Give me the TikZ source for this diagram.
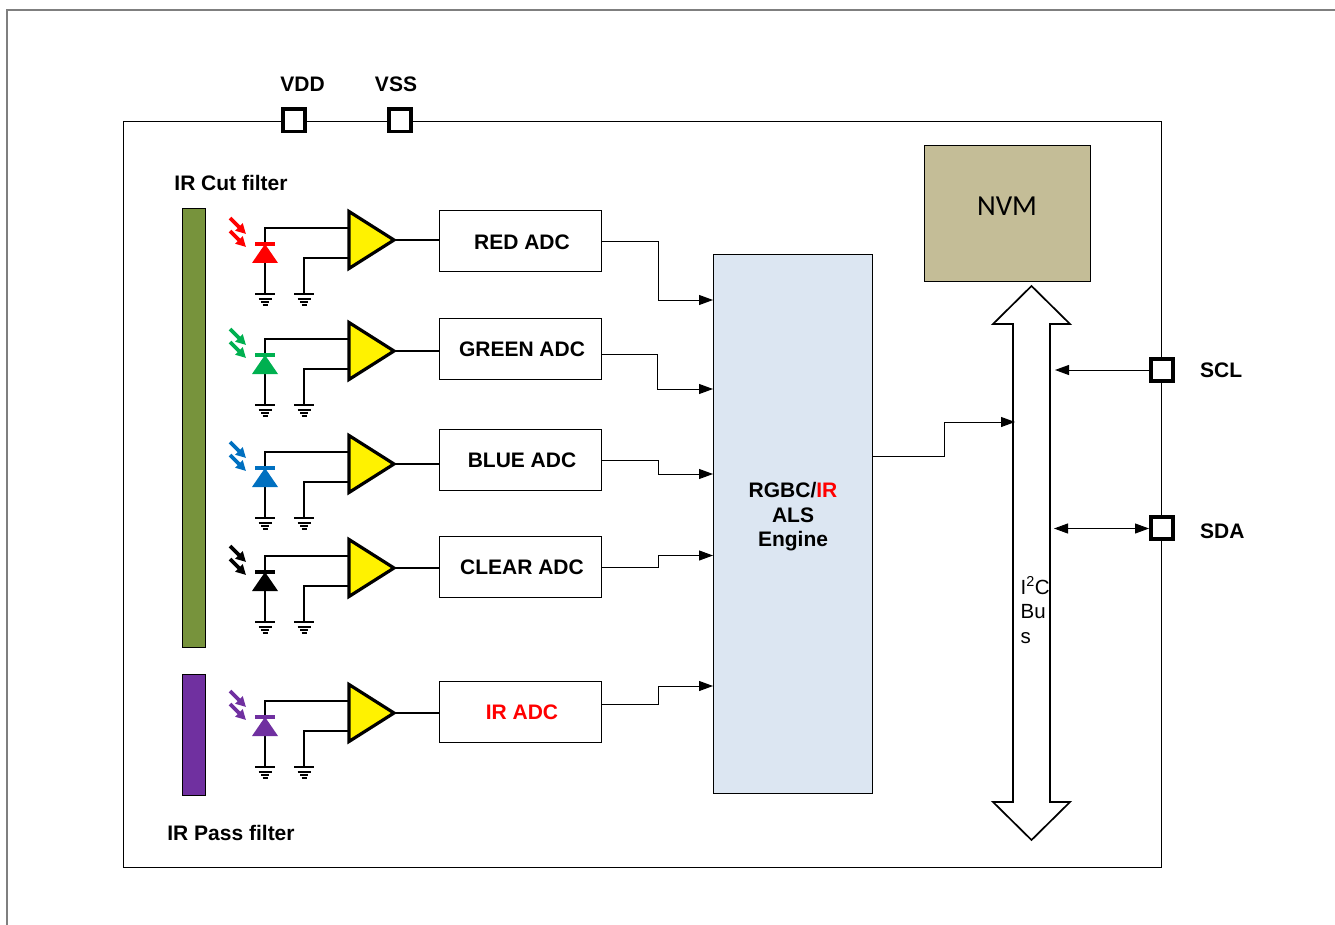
\documentclass[tikz,border=0pt]{standalone}
\usepackage{fontspec}
\setmainfont{Liberation Sans}
\newfontfamily\nvmfont{Carlito}
\usetikzlibrary{arrows.meta}
\definecolor{frameg}{HTML}{7F7F7F}
\definecolor{olivef}{HTML}{77933C}
\definecolor{purplef}{HTML}{7030A0}
\definecolor{nvmc}{HTML}{C4BD97}
\definecolor{engc}{HTML}{DCE6F2}
\definecolor{greend}{HTML}{00B050}
\definecolor{blued}{HTML}{0070C0}
\tikzset{
  x=1pt,y=-1pt,
  lab/.style={font=\fontsize{21}{24.5}\selectfont\bfseries,inner sep=0pt,align=center},
  wire/.style={draw=black,line width=1.7pt},
  thin wire/.style={draw=black,line width=1pt},
  arr/.style={thin wire,-{Triangle[length=14pt,width=10pt]}},
  darr/.style={thin wire,{Triangle[length=14pt,width=10pt]}-{Triangle[length=14pt,width=10pt]}},
  adc/.style={draw=black,line width=1pt,fill=white,minimum width=162pt,minimum height=61pt,inner sep=0pt},
  pad/.style={draw=black,line width=3.6pt,fill=white,minimum size=22.4pt,inner sep=0pt},
  amp/.style={draw=black,line width=3.2pt,fill=yellow,line join=miter},
  photon/.style={line width=3.6pt,-{Triangle[length=10pt,width=10pt]}},
  gbar/.style={line width=2pt},
}
% id, colour, amplifier tip y, box centre y, label
\newcommand{\chan}[5]{%
  \coordinate (tip#1) at (394,#3);
  \coordinate (up#1) at (349,{#3-12});
  \coordinate (lo#1) at (349,{#3+18});
  \node[adc] (adc#1) at (520,{#4+0.5}) {};
  \node[lab] (txt#1) at (522,{#4+1}) {#5};
  \draw[wire] (tip#1) -- (tip#1 -| adc#1.west);
  \draw[wire] (265,{#3+5}) -- (265,{#3+54});
  \draw[wire] (265,{#3+5}) |- (up#1);
  \draw[wire] (304,{#3+54}) |- (lo#1);
  \draw[amp] (349,{#3-28.5}) -- (tip#1) -- (349,{#3+28.5}) -- cycle;
  \fill[#2] (252,{#3+23}) -- (265,{#3+4}) -- (278,{#3+23}) -- cycle;
  \fill[#2] (255,{#3+2}) rectangle (275,{#3+6});
  \foreach \gx in {265,304}{
    \draw[gbar] ({\gx-10},{#3+54}) -- ({\gx+10},{#3+54});
    \draw[gbar] ({\gx-6.5},{#3+58.5}) -- ({\gx+6.5},{#3+58.5});
    \draw[gbar] ({\gx-4},{#3+61.5}) -- ({\gx+4},{#3+61.5});
    \draw[gbar] ({\gx-2.5},{#3+64.5}) -- ({\gx+2.5},{#3+64.5});
  }
  \draw[photon,#2] (230,{#3-22}) -- (246,{#3-6});
  \draw[photon,#2] (230,{#3-9}) -- (246,{#3+7});
}
% id, start y, mid x, end y
\newcommand{\toeng}[4]{%
  \coordinate (s#1) at (601,#2);
  \coordinate (e#1) at (713,#4);
  \draw[arr] (s#1) -- (#3,#2) -- (#3,#4) -- (e#1);
}
\begin{document}
\begin{tikzpicture}
\useasboundingbox (0,0) rectangle (1335,925);
\draw[frameg,line width=2pt] (7,925) -- (7,10) -- (1335,10);
\node[draw=black,line width=1pt,minimum width=1038pt,minimum height=746pt,inner sep=0pt] (chip) at (642,494.5) {};
\node[lab,anchor=center] (lvdd) at (302.5,84) {VDD};
\node[lab,anchor=center] (lvss) at (396,84) {VSS};
\node[pad] (vdd) at (294,120.5) {};
\node[pad] (vss) at (400,120.5) {};
\node[lab] (lcut) at (231,183) {IR Cut filter};
\node[lab] (lpass) at (231,833) {IR Pass filter};
\node[draw=black,line width=1pt,fill=olivef,minimum width=23pt,minimum height=438pt,inner sep=0pt] (fcut) at (193.5,428) {};
\node[draw=black,line width=1pt,fill=purplef,minimum width=23pt,minimum height=121pt,inner sep=0pt] (fpass) at (193.5,734.5) {};
\chan{r}{red}{240}{241}{RED ADC}
\chan{g}{greend}{351}{348}{GREEN ADC}
\chan{b}{blued}{464}{459}{BLUE ADC}
\chan{c}{black}{568}{566}{CLEAR ADC}
\chan{i}{purplef}{713}{711}{\textcolor{red}{IR ADC}}
\node[draw=black,line width=1pt,fill=engc,minimum width=159pt,minimum height=539pt,inner sep=0pt] (eng) at (792.5,524) {};
\node[lab] (engt) at (793,517) {RGBC/\textcolor{red}{IR}\\ALS\\Engine};
\node[draw=black,line width=1pt,fill=nvmc,minimum width=166pt,minimum height=135pt,inner sep=0pt] (nvm) at (1007,213.5) {};
\node[font=\fontsize{29}{32}\selectfont\nvmfont,inner sep=0pt] (nvmt) at (1007,206.5) {NVM};
\toeng{1}{242}{658}{300}
\toeng{2}{354}{657}{389}
\toeng{3}{460}{658}{474}
\toeng{4}{567.5}{658}{555.5}
\toeng{5}{704.5}{658}{686}
\draw[draw=black,line width=1.7pt,fill=white,line join=miter]
  (1031.5,286) -- (1070,324) -- (1050,324) -- (1050,802) -- (1070,802)
  -- (1031.5,840) -- (993,802) -- (1013,802) -- (1013,324) -- (993,324) -- cycle;
\coordinate (busin) at (1015,422);
\coordinate (engout) at (872,456);
\draw[arr] (engout) -- (944,456) -- (944,422) -- (busin);
\node[pad] (scl) at (1162,370) {};
\node[pad] (sda) at (1162,528) {};
\coordinate (bscl) at (1055,370);
\coordinate (bsda) at (1054,528.5);
\draw[arr] (scl) -- (bscl);
\draw[darr] (bsda) -- (sda.west |- bsda);
\node[lab,anchor=west] (lscl) at (1200,370.5) {SCL};
\node[lab,anchor=west] (lsda) at (1200,531.5) {SDA};
\node[font=\fontsize{20.5}{24.5}\selectfont,inner sep=0pt,align=left,anchor=north west] (bus) at (1020.5,576.5) {I\textsuperscript{2}C\\Bu\\s};
\end{tikzpicture}
\end{document}
